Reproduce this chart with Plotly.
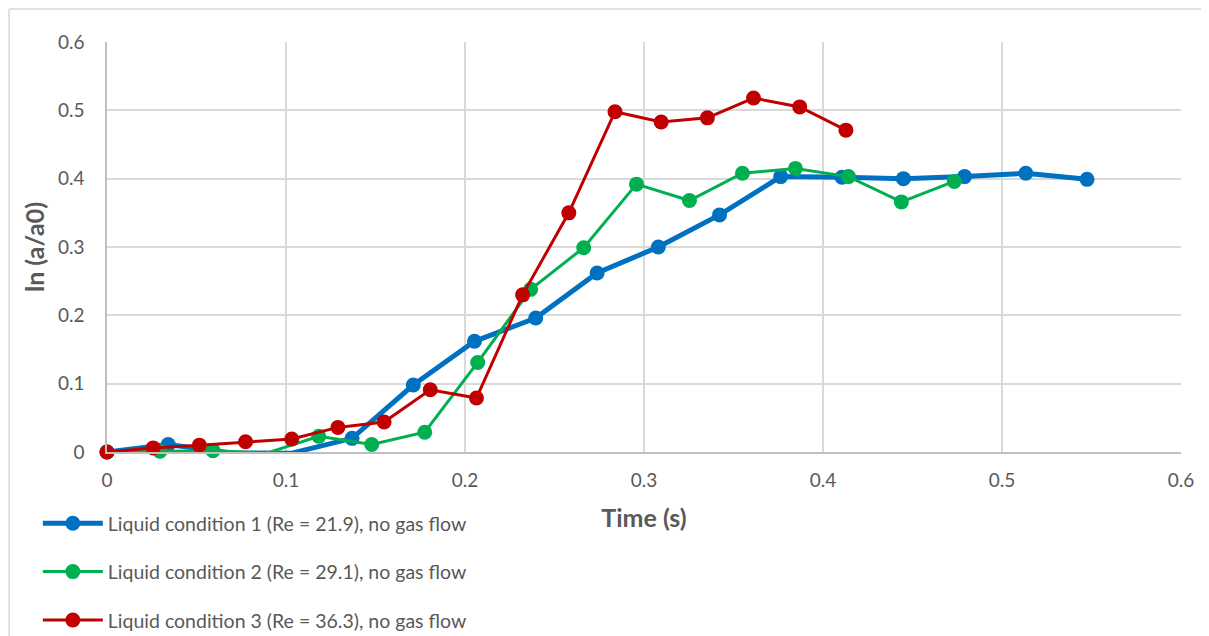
import plotly.graph_objects as go

# Data
t1 = [0.0, 0.0342, 0.0684, 0.1027, 0.1369, 0.1711, 0.2053, 0.2395, 0.2738, 0.3080,
      0.3422, 0.3764, 0.4106, 0.4449, 0.4791, 0.5133, 0.5475]
y1 = [0.0, 0.011, -0.001, -0.002, 0.020, 0.098, 0.162, 0.196, 0.262, 0.300,
      0.347, 0.403, 0.402, 0.400, 0.403, 0.408, 0.399]

t2 = [0.0, 0.0296, 0.0592, 0.0888, 0.1183, 0.1479, 0.1775, 0.2071, 0.2367, 0.2663,
      0.2958, 0.3254, 0.3550, 0.3846, 0.4142, 0.4438, 0.4733]
y2 = [0.0, 0.001, 0.002, -0.002, 0.023, 0.011, 0.029, 0.131, 0.238, 0.299,
      0.392, 0.368, 0.408, 0.415, 0.403, 0.366, 0.396]

t3 = [0.0, 0.0258, 0.0516, 0.0774, 0.1032, 0.1290, 0.1548, 0.1806, 0.2064, 0.2322,
      0.2580, 0.2838, 0.3096, 0.3354, 0.3612, 0.3870, 0.4128]
y3 = [0.0, 0.006, 0.010, 0.015, 0.019, 0.036, 0.044, 0.091, 0.079, 0.230,
      0.350, 0.498, 0.483, 0.489, 0.518, 0.505, 0.471]

names = ["Liquid condition 1 (Re = 21.9), no gas flow",
         "Liquid condition 2 (Re = 29.1), no gas flow",
         "Liquid condition 3 (Re = 36.3), no gas flow"]
colors = ["#0070C0", "#00B050", "#C00000"]
widths = [5, 3, 3]

x_ticks = [0, 0.1, 0.2, 0.3, 0.4, 0.5, 0.6]
x_tick_labels = ["0", "0.1", "0.2", "0.3", "0.4", "0.5", "0.6"]
y_ticks = [0, 0.1, 0.2, 0.3, 0.4, 0.5, 0.6]
y_tick_labels = ["0", "0.1", "0.2", "0.3", "0.4", "0.5", "0.6"]

fig = go.Figure()
for i, (tx, ty) in enumerate([(t1, y1), (t2, y2), (t3, y3)]):
    fig.add_trace(go.Scatter(
        x=tx, y=ty, mode="lines+markers", name=names[i],
        line=dict(color=colors[i], width=widths[i]),
        marker=dict(color=colors[i], size=15),
        cliponaxis=False, legendgroup=f"g{i}",
    ))

font_family = "Lato, Open Sans, sans-serif"
border = dict(color="#D9D9D9", width=1.5)
fig.update_layout(
    width=1201, height=680,
    margin=dict(l=99, r=28, t=34, b=236),
    paper_bgcolor="white", plot_bgcolor="white",
    font=dict(family=font_family, color="#595959", size=19),
    showlegend=True,
    legend=dict(
        orientation="v", x=-0.0644, y=-0.127, xanchor="left", yanchor="top",
        font=dict(size=19.5, color="#595959"), itemwidth=60,
        tracegroupgap=20, bgcolor="rgba(0,0,0,0)",
    ),
    xaxis=dict(
        range=[0, 0.6], tickvals=x_ticks, ticktext=x_tick_labels,
        showgrid=True, gridcolor="#D9D9D9", gridwidth=1.5,
        showline=True, linecolor="#BFBFBF", linewidth=1.5,
        zeroline=False, ticks="", ticklabelstandoff=10,
        tickfont=dict(size=19, color="#595959"),
        title=dict(text="<b>Time (s)</b>", font=dict(size=25, color="#595959"), standoff=20),
    ),
    yaxis=dict(
        range=[0, 0.6], tickvals=y_ticks, ticktext=y_tick_labels,
        showgrid=True, gridcolor="#D9D9D9", gridwidth=1.5,
        showline=True, linecolor="#BFBFBF", linewidth=1.5,
        zeroline=False, ticks="", ticklabelstandoff=17,
        tickfont=dict(size=19, color="#595959"),
        title=dict(text="<b>ln (a/a0)</b>", font=dict(size=25, color="#595959"), standoff=6),
    ),
    shapes=[
        dict(type="line", xref="paper", yref="paper",
             x0=-0.0912, x1=-0.0912, y0=-0.7, y1=1.0805, line=border, layer="below"),
        dict(type="line", xref="paper", yref="paper",
             x0=-0.0912, x1=1.06, y0=1.0805, y1=1.0805, line=border, layer="below"),
    ],
)

fig.write_html("out.html")
